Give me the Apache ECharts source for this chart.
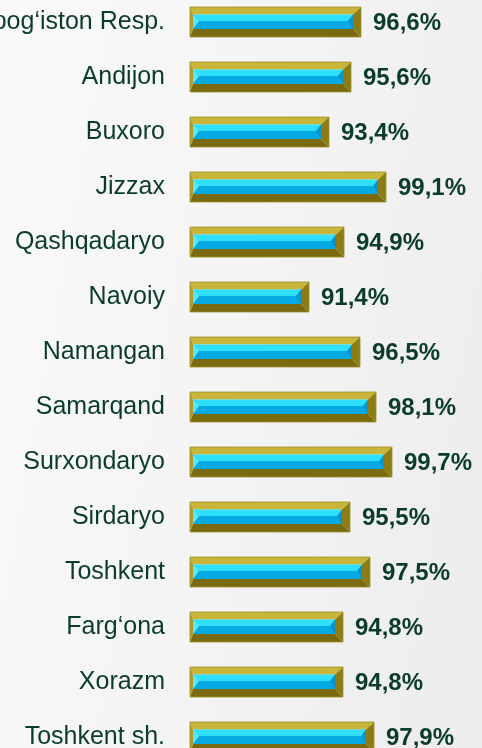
<!DOCTYPE html>
<html>
<head>
<meta charset="utf-8">
<script src="https://cdn.jsdelivr.net/npm/echarts@6/dist/echarts.min.js"></script>
<style>
html,body{margin:0;padding:0;}
#c{width:482px;height:748px;background:linear-gradient(100deg,#fafafa 0%,#f3f3f3 55%,#ececec 100%);}
</style>
</head>
<body>
<div id="c"></div>
<script>
var categories = ["Qoraqalpog\u2018iston Resp.", "Andijon", "Buxoro", "Jizzax", "Qashqadaryo", "Navoiy", "Namangan", "Samarqand", "Surxondaryo", "Sirdaryo", "Toshkent", "Farg\u2018ona", "Xorazm", "Toshkent sh."];
var values = [96.6, 95.6, 93.4, 99.1, 94.9, 91.4, 96.5, 98.1, 99.7, 95.5, 97.5, 94.8, 94.8, 97.9];
var axisMin = 79.5;
var axisMax = 105;

var chart = echarts.init(document.getElementById('c'), null, {renderer: 'canvas'});

function renderItem(params, api) {
  var v = api.value(0);
  var idx = api.value(1);
  var s = api.coord([axisMin, idx]);
  var e = api.coord([v, idx]);
  var x0 = s[0], x1 = e[0], yc = e[1];
  var h = 30;
  var top = yc - h / 2, bot = yc + h / 2;
  var bl = 3, br = 8, bt = 7.5, bb = 8;
  var ix0 = x0 + bl, ix1 = x1 - br, it = top + bt, ib = bot - bb;
  var im = it + (ib - it) * 0.45;
  var txt = String(v.toFixed(1)).replace('.', ',') + '%';
  return {
    type: 'group',
    children: [
      {type: 'polygon', shape: {points: [[x0, top], [x1, top], [ix1, it], [ix0, it]]}, style: {fill: '#c9b53a'}},
      {type: 'polygon', shape: {points: [[x0, bot], [x1, bot], [ix1, ib], [ix0, ib]]}, style: {fill: '#7a6a10'}},
      {type: 'polygon', shape: {points: [[x0, top], [ix0, it], [ix0, ib], [x0, bot]]}, style: {fill: '#ad9c2c'}},
      {type: 'polygon', shape: {points: [[x1, top], [ix1, it], [ix1, ib], [x1, bot]]}, style: {fill: '#8c7c16'}},
      {type: 'rect', shape: {x: ix0, y: it, width: ix1 - ix0, height: im - it}, style: {fill: '#2ee0fb'}},
      {type: 'rect', shape: {x: ix0, y: im, width: ix1 - ix0, height: ib - im}, style: {fill: '#06aae2'}},
      {type: 'polygon', shape: {points: [[ix0, it], [ix0 + 6, im], [ix0, ib]]}, style: {fill: '#5fe6fb'}},
      {type: 'polygon', shape: {points: [[ix1, it], [ix1 - 5, im], [ix1, ib]]}, style: {fill: '#0a93cc'}},
      {type: 'rect', shape: {x: x0, y: top, width: x1 - x0, height: h}, style: {fill: 'none', stroke: '#a08f26', lineWidth: 0.8}},
      {type: 'text', x: x1 + 12, y: yc + 1, style: {text: txt, fill: '#0b3b2c', font: 'bold 24px "Liberation Sans", Arial, sans-serif', verticalAlign: 'middle', align: 'left'}}
    ]
  };
}

var data = values.map(function (v, i) { return [v, i]; });

chart.setOption({
  animation: false,
  grid: {left: 190, width: 255, top: -5.5, height: 770, containLabel: false, outerBoundsMode: 'none'},
  xAxis: {type: 'value', min: axisMin, max: axisMax, show: false},
  yAxis: {
    type: 'category', data: categories, inverse: true,
    axisLine: {show: false}, axisTick: {show: false}, splitLine: {show: false},
    axisLabel: {margin: 25, fontSize: 25, color: '#0b3b2c', fontFamily: '"Liberation Sans", Arial, sans-serif'}
  },
  series: [{
    type: 'custom', renderItem: renderItem, data: data,
    encode: {x: 0, y: 1}, clip: false
  }]
});
</script>
</body>
</html>
